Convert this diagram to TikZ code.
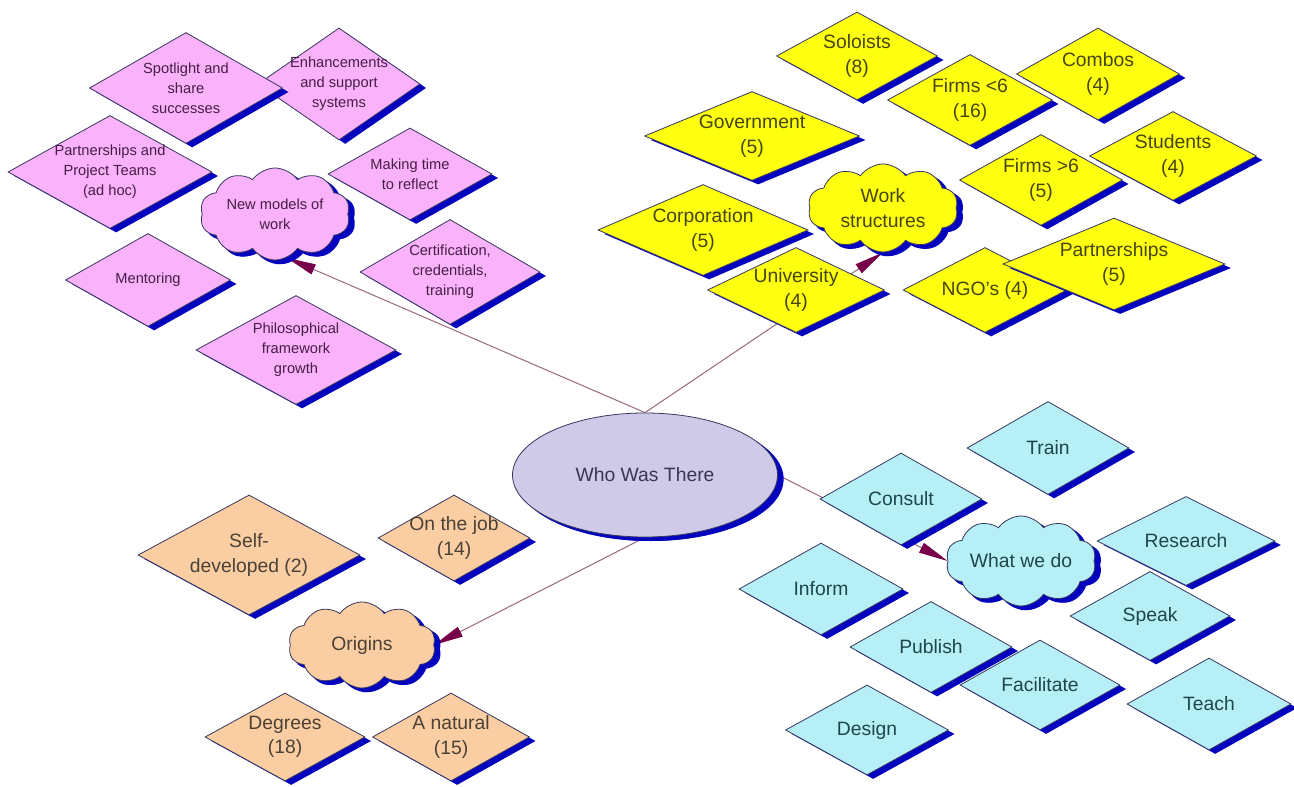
\documentclass[tikz,border=0pt]{standalone}
\usepackage{fontspec}
\setmainfont{Liberation Sans}
\usetikzlibrary{shapes.geometric,shapes.symbols,shadows,arrows.meta}

\definecolor{pinkfill}{RGB}{250,178,250}
\definecolor{yellowfill}{RGB}{255,255,16}
\definecolor{cyanfill}{RGB}{182,240,246}
\definecolor{peachfill}{RGB}{250,206,162}
\definecolor{lavfill}{RGB}{206,202,232}
\definecolor{shadowblue}{RGB}{4,4,190}
\definecolor{edgecol}{RGB}{55,55,95}
\definecolor{linkcol}{RGB}{150,105,125}
\definecolor{tipcol}{RGB}{120,0,75}
\definecolor{pinktext}{RGB}{70,30,70}
\definecolor{yellowtext}{RGB}{70,70,20}
\definecolor{cyantext}{RGB}{30,70,75}
\definecolor{peachtext}{RGB}{75,65,55}
\definecolor{lavtext}{RGB}{60,55,80}

\pgfdeclarelayer{bg}
\pgfsetlayers{bg,main}

\tikzset{
  base/.style={draw=edgecol, line width=0.6pt, inner sep=0pt,
    drop shadow={shadow xshift=4.6pt, shadow yshift=-3pt,
                 fill=shadowblue, opacity=1}},
  dia/.style={base, diamond},
  puff/.style={base, cloud, cloud puffs=10, cloud puff arc=110,
    cloud ignores aspect,
    drop shadow={shadow xshift=3.2pt, shadow yshift=-3.2pt,
                 fill=shadowblue, opacity=1}},
  pink/.style={fill=pinkfill},
  yellow/.style={fill=yellowfill},
  cyan/.style={fill=cyanfill},
  peach/.style={fill=peachfill},
  pinktxt/.style={align=center, text=pinktext, font=\fontsize{11}{15}\selectfont},
  yellowtxt/.style={align=center, text=yellowtext, font=\fontsize{14.5}{18.5}\selectfont},
  cyantxt/.style={align=center, text=cyantext, font=\fontsize{14.5}{18.5}\selectfont},
  peachtxt/.style={align=center, text=peachtext, font=\fontsize{14.5}{18.5}\selectfont},
  link/.style={draw=linkcol, line width=0.75pt},
  tip/.style={-{Triangle[length=22pt, width=8pt, color=tipcol]}},
}

% diamond box: name, colour group, x, y, width, height, text
\newcommand\dbox[7]{%
  \node[dia, #2, minimum width=#5*0.75pt, minimum height=#6*0.75pt] (#1) at (#3,#4) {};
  \node[#2txt] (#1-t) at (#1.center) {#7};
}
% cloud: name, colour group, x, y, width, height, text
\newcommand\cbox[7]{%
  \node[puff, #2, minimum width=#5*0.75pt, minimum height=#6*0.75pt] (#1) at (#3,#4) {};
  \node[#2txt] (#1-t) at (#1.center) {#7};
}

\begin{document}
\begin{tikzpicture}[x=0.75pt, y=-0.75pt]
\useasboundingbox (0,0) rectangle (1294,787);
\begin{pgfonlayer}{bg}
  \fill[white] (0,0) rectangle (1294,787);
\end{pgfonlayer}

% New models of work
\dbox{enh}{pink}{339}{84}{162}{112}{Enhancements\\and support\\systems}
\dbox{spot}{pink}{186}{88}{193}{111}{Spotlight and\\share\\successes}
\dbox{ppt}{pink}{110}{172}{204}{113}{Partnerships and\\Project Teams\\(ad hoc)}
\dbox{make}{pink}{410}{174}{164}{92}{Making time\\to reflect}
\cbox{nm}{pink}{275}{214}{150}{92}{New models of\\work}
\dbox{cert}{pink}{450}{272}{180}{105}{Certification,\\credentials,\\training}
\dbox{ment}{pink}{148}{280}{165}{93}{Mentoring}
\dbox{phil}{pink}{296}{350}{200}{109}{Philosophical\\framework\\growth}

% Work structures
\dbox{sol}{yellow}{857}{56}{161}{88}{Soloists\\(8)}
\dbox{gov}{yellow}{752}{136}{215}{89}{Government\\(5)}
\dbox{fl6}{yellow}{970}{100}{165}{91}{Firms <6\\(16)}
\dbox{comb}{yellow}{1098}{74}{163}{92}{Combos\\(4)}
\dbox{stud}{yellow}{1173}{156}{167}{89}{Students\\(4)}
\dbox{fg6}{yellow}{1041}{180}{163}{91}{Firms >6\\(5)}
\dbox{corp}{yellow}{703}{230}{210}{91}{Corporation\\(5)}
\cbox{ws}{yellow}{883}{208}{150}{88}{Work\\structures}
\dbox{univ}{yellow}{796}{290}{177}{85}{University\\(4)}
\dbox{ngo}{yellow}{985}{290}{164}{85}{NGO's (4)}
\dbox{partn}{yellow}{1114}{264}{222}{92}{Partnerships\\(5)}

% What we do
\dbox{train}{cyan}{1048}{448}{162}{93}{Train}
\dbox{cons}{cyan}{901}{499}{162}{92}{Consult}
\dbox{res}{cyan}{1186}{541}{178}{89}{Research}
\dbox{inf}{cyan}{821}{589}{164}{92}{Inform}
\cbox{wwd}{cyan}{1021}{561}{150}{90}{What we do}
\dbox{speak}{cyan}{1150}{616}{160}{89}{Speak}
\dbox{pub}{cyan}{931}{647}{162}{91}{Publish}
\dbox{fac}{cyan}{1040}{685}{160}{90}{Facilitate}
\dbox{des}{cyan}{867}{730}{163}{90}{Design}
\dbox{teach}{cyan}{1209}{704}{164}{92}{Teach}

% Origins
\dbox{self}{peach}{249}{555}{222}{120}{Self-\\developed (2)}
\dbox{otj}{peach}{454}{538}{152}{86}{On the job\\(14)}
\cbox{orig}{peach}{362}{645}{147}{86}{Origins}
\dbox{deg}{peach}{285}{737}{160}{88}{Degrees\\(18)}
\dbox{nat}{peach}{451}{737}{157}{88}{A natural\\(15)}

% central topic
\node[base, ellipse, fill=lavfill, text=lavtext,
      font=\fontsize{14.5}{18.5}\selectfont,
      minimum width=265*0.75pt, minimum height=124*0.75pt,
      drop shadow={shadow xshift=3.5pt, shadow yshift=-3pt, fill=shadowblue, opacity=1}]
      (who) at (645,475) {Who Was There};

% links from the central topic to each group
\begin{pgfonlayer}{bg}
  \draw[link, tip] (who.north) -- (nm.-75);
  \draw[link, tip] (who.north) -- (ws.south);
  \draw[link, tip] (who.east) -- (wwd.west);
  \draw[link, tip] (who.south) -- (orig.east);
\end{pgfonlayer}
\end{tikzpicture}
\end{document}
